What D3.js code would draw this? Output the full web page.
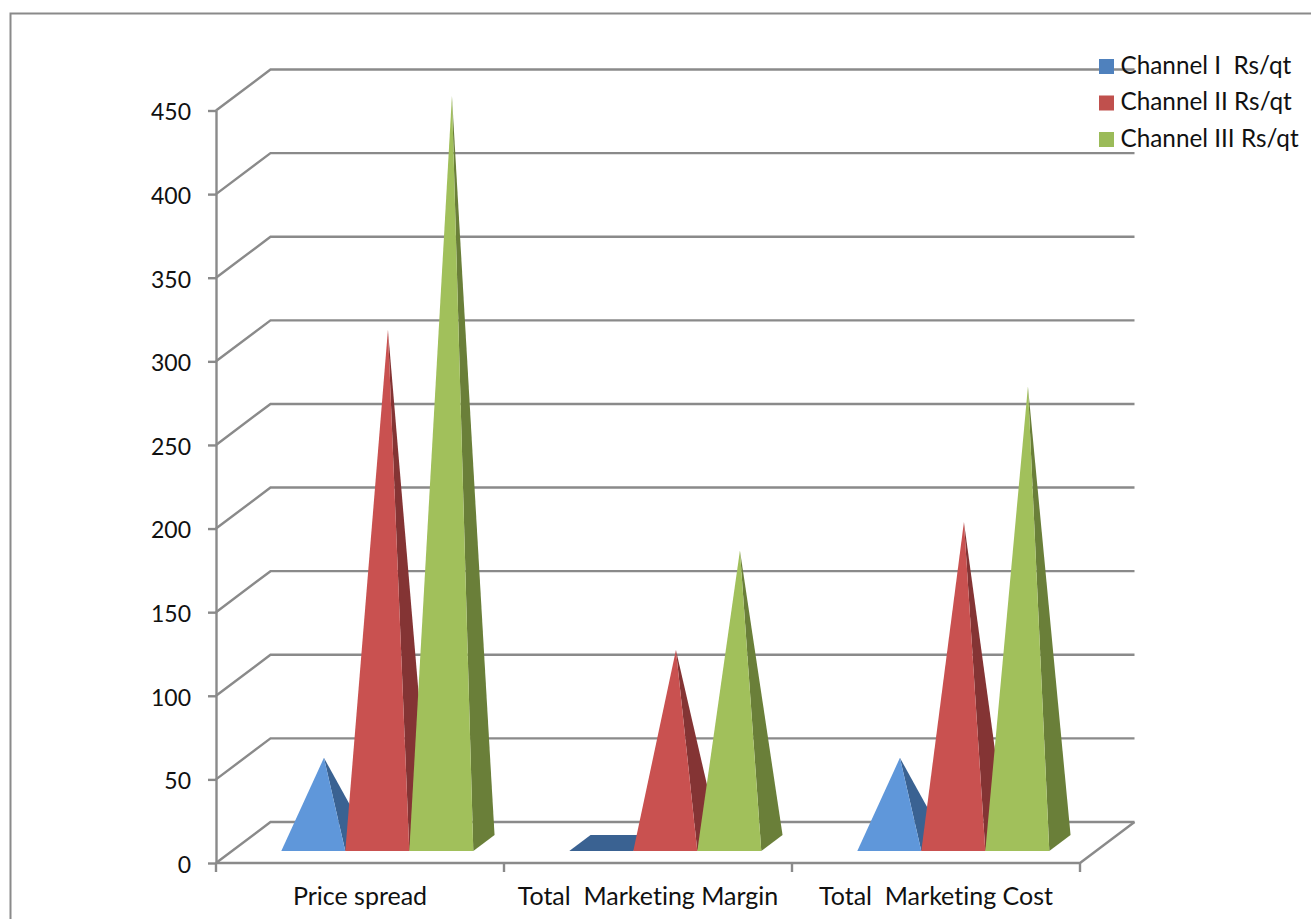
<!DOCTYPE html>
<html>
<head>
<meta charset="utf-8">
<script src="https://cdn.jsdelivr.net/npm/d3@7/dist/d3.min.js"></script>
<style>
  html, body { margin: 0; padding: 0; background: #fff; }
  svg { display: block; }
  text { font-family: Lato, "Open Sans", sans-serif; fill: #111; white-space: pre; font-variant-ligatures: none; }
</style>
</head>
<body>
<svg id="chart" width="1311" height="919"></svg>
<script>
// Chart values
const categories = ["Price spread", "Total  Marketing Margin", "Total  Marketing Cost"];
const seriesNames = ["Channel I  Rs/qt", "Channel II Rs/qt", "Channel III Rs/qt"];
const channelOne = [51, 0, 51];
const channelTwo = [307, 115.5, 192];
const channelThree = [447, 175, 273];
const yTickValues = [0, 50, 100, 150, 200, 250, 300, 350, 400, 450];

// Face colours per series
const legendColors = ["#4f81bd", "#c0504d", "#9bbb59"];
const frontColors = ["#5f97da", "#c95150", "#a1c05b"];
const sideColors = ["#3a6292", "#843434", "#6a7f39"];
const gridColor = "#8a8a8a";
const lineWidth = 2.4;

const series = [channelOne, channelTwo, channelThree];
const svg = d3.select("#chart");

// Value and category scales on the front plane of the box
const y = d3.scaleLinear().domain([0, 450]).range([863, 110.5]);
const x = d3.scaleBand().domain(categories).range([216, 1080]);
const inner = d3.scaleBand().domain(d3.range(3)).range([49.5, 241.5]);

// Depth into the box: 0 is the front plane, 1 the back wall
const depthX = d3.scaleLinear().domain([0, 1]).range([0, 54.5]);
const depthY = d3.scaleLinear().domain([0, 1]).range([0, -41]);
const project = (px, value, d) => [px + depthX(d), y(value) + depthY(d)];

const baseFront = 0.29, baseBack = 0.68, baseMid = 0.485;

// Outer frame: top and left edges only
svg.append("path")
  .attr("d", "M1311,13.5H10.5V919")
  .attr("fill", "none").attr("stroke", gridColor).attr("stroke-width", 2);

// Gridlines running along the side wall and then the back wall
const grid = svg.append("g").attr("fill", "none").attr("stroke", gridColor).attr("stroke-width", lineWidth);
grid.selectAll("path").data(yTickValues).join("path")
  .attr("d", v => d3.line()([project(216, v, 0), project(216, v, 1), project(1080, v, 1)]));

// Front and right edges of the floor
grid.append("path")
  .attr("d", d3.line()([project(216, 0, 0), project(1080, 0, 0), project(1080, 0, 1)]));

// Value axis
const yAxis = svg.append("g").attr("transform", "translate(216,0)")
  .call(d3.axisLeft(y).tickValues(yTickValues).tickSize(8).tickPadding(17).tickSizeOuter(0));
yAxis.attr("font-family", null).attr("font-size", null);
yAxis.selectAll("path, line").attr("stroke", gridColor).attr("stroke-width", lineWidth);
yAxis.selectAll("text").attr("font-size", 23).attr("y", 1).attr("dy", "0.36em");

// Category ticks at the band edges
const edges = categories.map(c => x(c)).concat(x.range()[1]);
svg.append("g").selectAll("line").data(edges).join("line")
  .attr("x1", d => d).attr("x2", d => d).attr("y1", y(0)).attr("y2", y(0) + 9)
  .attr("stroke", gridColor).attr("stroke-width", lineWidth);

// Category labels
svg.append("g").selectAll("text").data(categories).join("text")
  .attr("x", c => x(c) + x.bandwidth() / 2)
  .attr("y", 905).attr("text-anchor", "middle").attr("font-size", 25)
  .text(c => c);

// Pyramids, drawn left to right so that later series sit in front
const marks = svg.append("g");
categories.forEach((cat, ci) => {
  series.forEach((values, si) => {
    const v = values[ci];
    const left = x(cat) + inner(si);
    const right = left + inner.bandwidth();
    const fl = project(left, 0, baseFront), fr = project(right, 0, baseFront);
    const bl = project(left, 0, baseBack), br = project(right, 0, baseBack);
    if (v === 0) {
      // A zero value leaves only the flat base
      marks.append("path").attr("d", d3.line()([fl, fr, br, bl]) + "Z").attr("fill", sideColors[si]);
      return;
    }
    const apex = project((left + right) / 2, v, baseMid);
    marks.append("path").attr("d", d3.line()([fr, br, apex]) + "Z").attr("fill", sideColors[si]);
    marks.append("path").attr("d", d3.line()([fl, fr, apex]) + "Z").attr("fill", frontColors[si]);
  });
});

// Legend
const legendY = d3.scalePoint().domain(seriesNames).range([66.5, 139.5]);
const legend = svg.append("g").selectAll("g").data(seriesNames).join("g")
  .attr("transform", d => `translate(1099,${legendY(d)})`);
legend.append("rect").attr("x", 0).attr("y", -7.5).attr("width", 15).attr("height", 15)
  .attr("fill", (d, i) => legendColors[i]);
legend.append("text").attr("x", 21.5).attr("y", 7).attr("font-size", 24.3).text(d => d);
</script>
</body>
</html>
